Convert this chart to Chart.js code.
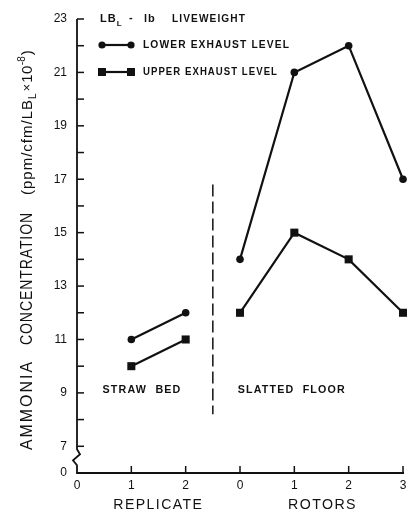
<!DOCTYPE html>
<html>
<head>
<meta charset="utf-8">
<script src="https://cdn.jsdelivr.net/npm/chart.js@4.4.1/dist/chart.umd.min.js"></script>
<style>
  html, body { margin: 0; padding: 0; background: #fff; }
  #wrap { width: 415px; height: 514px; position: relative; }
</style>
</head>
<body>
<div id="wrap"><canvas id="c" width="415" height="514"></canvas></div>
<script>
// ---- data ----
const replicateTicks = ['0', '1', '2'];
const rotorTicks = ['0', '1', '2', '3'];
const strawReplicates = [1, 2];
const lowerStraw = [11, 12];
const upperStraw = [10, 11];
const slattedRotors = [0, 1, 2, 3];
const lowerSlatted = [14, 21, 22, 17];
const upperSlatted = [12, 15, 14, 12];
const yTickValues = [7, 9, 11, 13, 15, 17, 19, 21, 23];
const yBreakLabel = '0';
const seriesNames = ['LOWER EXHAUST LEVEL', 'UPPER EXHAUST LEVEL'];

const rotorOffset = replicateTicks.length; // rotors panel starts after replicate panel
const xTickLabels = replicateTicks.concat(rotorTicks);
const yMin = 6, yMax = 23;

function pts(xs, ys, off) { return xs.map((x, i) => ({ x: x + off, y: ys[i] })); }

const INK = '#111';
const FONT = '"Liberation Sans", Arial, sans-serif';

function txt(ctx, s, x, y, font, spacing, align, maxW) {
  ctx.save();
  ctx.font = font;
  ctx.letterSpacing = (spacing || 0) + 'px';
  ctx.textAlign = align || 'left';
  ctx.fillStyle = INK;
  if (maxW) ctx.fillText(s, x, y, maxW); else ctx.fillText(s, x, y);
  const w = Math.min(ctx.measureText(s).width, maxW || 1e9);
  ctx.restore();
  return w;
}

const decor = {
  id: 'decor',
  afterDraw(chart) {
    const ctx = chart.ctx;
    const xs = chart.scales.x, ys = chart.scales.y;
    const X = v => xs.getPixelForValue(v), Y = v => ys.getPixelForValue(v);
    const left = X(0), right = X(xTickLabels.length - 1), bottom = Y(yMin), top = Y(yMax);
    ctx.save();
    ctx.strokeStyle = INK;
    ctx.lineWidth = 1.8;
    ctx.lineCap = 'butt';
    // y axis with break
    const y7 = Y(7);
    ctx.beginPath();
    ctx.moveTo(left, top);
    ctx.lineTo(left, y7 + 3);
    ctx.lineTo(left + 3, y7 + 8);
    ctx.lineTo(left - 4, y7 + 14);
    ctx.lineTo(left, y7 + 19);
    ctx.lineTo(left, bottom);
    ctx.lineTo(right + 1, bottom);
    ctx.stroke();
    // y ticks inward
    ctx.lineWidth = 1.5;
    for (let v = 7; v <= yMax; v++) {
      ctx.beginPath();
      ctx.moveTo(left, Y(v));
      ctx.lineTo(left + 7, Y(v));
      ctx.stroke();
    }
    // x ticks upward
    for (let i = 1; i < xTickLabels.length; i++) {
      ctx.beginPath();
      ctx.moveTo(X(i), bottom);
      ctx.lineTo(X(i), bottom - 7);
      ctx.stroke();
    }
    // dashed separator
    ctx.lineWidth = 1.5;
    ctx.setLineDash([12, 5]);
    ctx.beginPath();
    ctx.moveTo(X(2.5), Y(16.8));
    ctx.lineTo(X(2.5), Y(8.2));
    ctx.stroke();
    ctx.setLineDash([]);
    ctx.restore();

    // panel labels
    ctx.textBaseline = 'middle';
    txt(ctx, 'STRAW  BED', X(0.47), Y(9.12), 'bold 11px ' + FONT, 1.2, 'left', 79);
    txt(ctx, 'SLATTED  FLOOR', X(rotorOffset - 0.04), Y(9.12), 'bold 11px ' + FONT, 1.2, 'left', 108);

    // x titles
    txt(ctx, 'REPLICATE', (X(0) + X(2)) / 2 + 27, 505, '15px ' + FONT, 1.5, 'center', 90);
    txt(ctx, 'ROTORS', (X(3) + X(6)) / 2 + 1, 505, '15px ' + FONT, 1.5, 'center', 69);

    // legend
    const lx = 104, lf = 'bold 11px ' + FONT;
    let x = txt(ctx, 'LB', 100, 19, lf, 1, 'left');
    txt(ctx, 'L', 100 + x, 24, 'bold 8px ' + FONT, 0, 'left');
    txt(ctx, '-', 129, 18, lf, 0, 'left');
    txt(ctx, 'lb', 144, 19, lf, 1, 'left');
    txt(ctx, 'LIVEWEIGHT', 172, 19, lf, 1.2, 'left', 74);
    const rows = [[45, 'circle'], [72, 'rect']];
    rows.forEach((r, i) => {
      const ry = r[0];
      ctx.save();
      ctx.strokeStyle = INK; ctx.fillStyle = INK; ctx.lineWidth = 2.2;
      ctx.beginPath(); ctx.moveTo(lx - 2, ry); ctx.lineTo(lx + 27, ry); ctx.stroke();
      [lx - 2, lx + 27].forEach(px => {
        ctx.beginPath();
        if (r[1] === 'circle') ctx.arc(px, ry, 3.6, 0, Math.PI * 2);
        else ctx.rect(px - 4, ry - 4, 8, 8);
        ctx.fill();
      });
      ctx.restore();
      txt(ctx, seriesNames[i], 143, ry, lf, 1.2, 'left', i === 0 ? 147 : 135);
    });

    // y title (rotated)
    ctx.save();
    ctx.translate(32, 0);
    ctx.rotate(-Math.PI / 2);
    ctx.textBaseline = 'alphabetic';
    // rotated coords: x' = -y
    txt(ctx, 'AMMONIA', -450, 0, '16px ' + FONT, 2, 'left', 90);
    txt(ctx, 'CONCENTRATION', -345, 0, '16px ' + FONT, 1, 'left', 133);
    let p = -195;
    p += txt(ctx, '(ppm/cfm/LB', p, 0, '15px ' + FONT, 1, 'left', 103);
    p += txt(ctx, 'L', p, 4, '10px ' + FONT, 0, 'left');
    p += 2;
    p += txt(ctx, '×', p, -1, '13px ' + FONT, 0, 'left');
    p += 1;
    p += txt(ctx, '10', p, 0, '15px ' + FONT, 0.5, 'left');
    p += txt(ctx, '-8', p, -7, '10px ' + FONT, 0, 'left');
    txt(ctx, ')', p + 1, 0, '15px ' + FONT, 0, 'left');
    ctx.restore();
  }
};

const lineStyle = (style, r) => ({
  borderColor: INK, backgroundColor: INK, borderWidth: 2.2,
  pointStyle: style, pointRadius: r, pointHoverRadius: r,
  pointBackgroundColor: INK, pointBorderColor: INK, pointBorderWidth: 0,
  tension: 0, fill: false, clip: false
});

new Chart(document.getElementById('c'), {
  type: 'line',
  data: {
    datasets: [
      Object.assign({ label: seriesNames[0], data: pts(strawReplicates, lowerStraw, 0) }, lineStyle('circle', 3.8)),
      Object.assign({ label: seriesNames[0], data: pts(slattedRotors, lowerSlatted, rotorOffset) }, lineStyle('circle', 3.8)),
      Object.assign({ label: seriesNames[1], data: pts(strawReplicates, upperStraw, 0) }, lineStyle('rect', 5.7)),
      Object.assign({ label: seriesNames[1], data: pts(slattedRotors, upperSlatted, rotorOffset) }, lineStyle('rect', 5.7))
    ]
  },
  options: {
    responsive: false,
    animation: false,
    events: [],
    layout: { padding: { top: 19, right: 12, left: 0, bottom: 0 } },
    plugins: { legend: { display: false }, tooltip: { enabled: false } },
    scales: {
      x: {
        type: 'linear', min: 0, max: xTickLabels.length - 1,
        grid: { display: false, drawTicks: false },
        border: { display: false },
        afterFit(s) { s.height = 41; },
        afterBuildTicks(s) { s.ticks = xTickLabels.map((_, i) => ({ value: i })); },
        ticks: {
          autoSkip: false, maxRotation: 0, padding: 5, color: INK,
          font: { family: FONT, size: 12 },
          callback: (v) => xTickLabels[v]
        }
      },
      y: {
        type: 'linear', min: yMin, max: yMax,
        grid: { display: false, drawTicks: false },
        border: { display: false },
        afterFit(s) { s.width = 77; },
        afterBuildTicks(s) { s.ticks = [yMin].concat(yTickValues).map(v => ({ value: v })); },
        ticks: {
          autoSkip: false, padding: 10, color: INK,
          font: { family: FONT, size: 12 },
          callback: (v) => v === yMin ? yBreakLabel : String(v)
        }
      }
    }
  },
  plugins: [decor]
});
</script>
</body>
</html>
